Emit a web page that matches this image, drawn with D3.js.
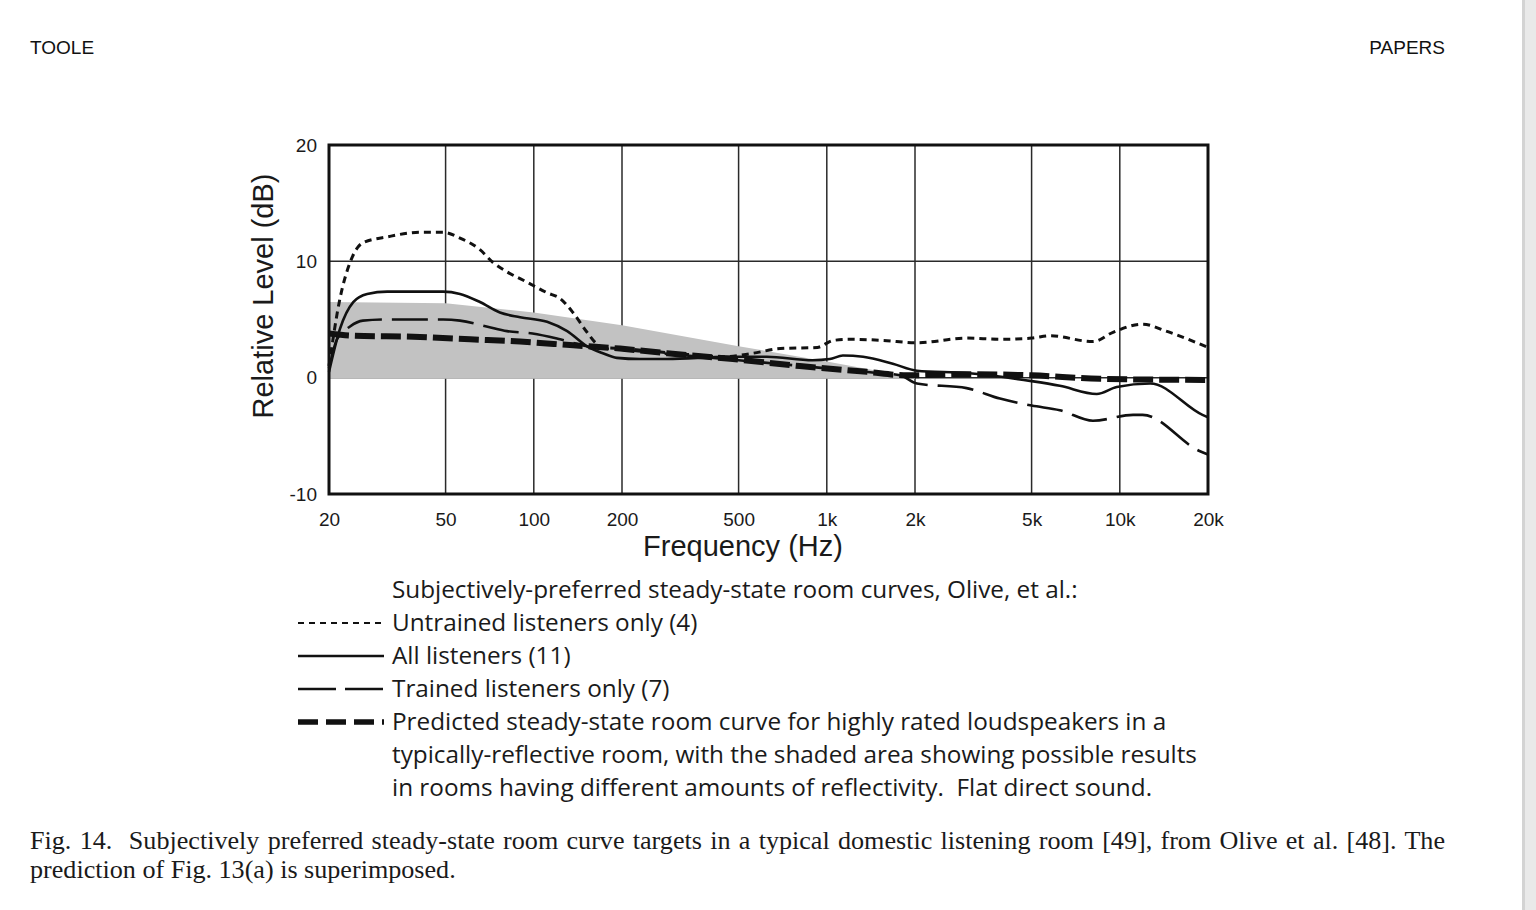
<!DOCTYPE html>
<html><head><meta charset="utf-8">
<script src="https://cdn.jsdelivr.net/npm/d3@7"></script>
<style>
html,body{margin:0;padding:0;background:#fff;}
svg{display:block;}
text{white-space:pre;}
</style></head>
<body>
<svg id="chart" width="1536" height="910"></svg>
<script>
// ---------- data ----------
const xTickValues = [20, 50, 100, 200, 500, 1000, 2000, 5000, 10000, 20000];
const xTickLabels = ["20", "50", "100", "200", "500", "1k", "2k", "5k", "10k", "20k"];
const yTickValues = [-10, 0, 10, 20];
const yTickLabels = ["-10", "0", "10", "20"];

const untrainedFreq = [20, 21.8, 23.6, 26.1, 31.6, 40.9, 49, 56, 65.5, 72.6, 81, 95, 111, 123, 136, 152, 164, 172, 200, 300, 450, 560, 694, 928, 1052, 1200, 1556, 2030, 3000, 3900, 5000, 5780, 8100, 9480, 11960, 14400, 20000];
const untrainedDb   = [1.0, 6.8, 9.9, 11.6, 12.1, 12.5, 12.5, 12.0, 11.0, 9.9, 9.1, 8.2, 7.3, 6.8, 5.6, 3.9, 2.9, 2.6, 2.5, 2.1, 1.8, 2.1, 2.5, 2.6, 3.2, 3.3, 3.2, 3.0, 3.4, 3.3, 3.4, 3.6, 3.1, 3.9, 4.6, 4.0, 2.6];

const allFreq = [20, 21.8, 24.2, 27, 31.6, 40.9, 49, 56, 65.5, 76.6, 89.8, 111, 130, 152, 172, 192, 230, 285, 458, 624, 894, 1024, 1135, 1330, 1680, 2030, 3000, 5000, 6240, 8340, 9760, 12700, 19150, 20000];
const allDb   = [0.5, 4.2, 6.5, 7.2, 7.4, 7.4, 7.4, 7.2, 6.5, 5.6, 5.2, 4.8, 4.0, 2.7, 2.1, 1.7, 1.6, 1.6, 1.8, 1.8, 1.5, 1.6, 1.9, 1.8, 1.2, 0.6, 0.4, -0.3, -0.7, -1.4, -0.8, -0.5, -3.2, -3.4];

const trainedFreq = [20, 21.3, 23.6, 26.1, 31.6, 49, 56, 69, 81, 99, 123, 152, 200, 300, 500, 1000, 1500, 1780, 2030, 3000, 3900, 5000, 6240, 8100, 11100, 11960, 18700, 20000];
const trainedDb   = [0.8, 3.3, 4.4, 4.9, 5.0, 5.0, 4.9, 4.4, 4.0, 3.8, 3.3, 2.7, 2.4, 2.0, 1.5, 0.8, 0.4, 0.2, -0.5, -0.9, -1.8, -2.4, -2.8, -3.7, -3.2, -3.2, -6.3, -6.6];

const predictedFreq = [20, 24.2, 40.9, 60.6, 89.8, 133, 197, 285, 478, 808, 1370, 1880, 3000, 5000, 8540, 20000];
const predictedDb   = [3.8, 3.6, 3.5, 3.3, 3.1, 2.8, 2.5, 2.1, 1.6, 1.0, 0.5, 0.2, 0.3, 0.2, -0.1, -0.2];

const shadeFreq  = [20, 50, 100, 200, 500, 1000, 2000];
const shadeTopDb = [6.5, 6.4, 5.6, 4.5, 2.7, 1.4, 0];

const legendTitle = "Subjectively-preferred steady-state room curves, Olive, et al.:";
const legendLabels = ["Untrained listeners only (4)", "All listeners (11)", "Trained listeners only (7)", "Predicted steady-state room curve for highly rated loudspeakers in a"];
const legendContinuation = ["typically-reflective room, with the shaded area showing possible results", "in rooms having different amounts of reflectivity.  Flat direct sound."];
const yAxisTitle = "Relative Level (dB)";
const xAxisTitle = "Frequency (Hz)";
const headerLeft = "TOOLE";
const headerRight = "PAPERS";
const captionLines = ["Fig. 14.  Subjectively preferred steady-state room curve targets in a typical domestic listening room [49], from Olive et al. [48]. The", "prediction of Fig. 13(a) is superimposed."];

// ---------- layout ----------
const svg = d3.select("#chart");
const L = 329, R = 1208, T = 145, B = 494;
const x = d3.scaleLog().domain([20, 20000]).range([L, R]);
const y = d3.scaleLinear().domain([-10, 20]).range([B, T]);

// page edge strip
svg.append("rect").attr("x", 1522).attr("y", 0).attr("width", 14).attr("height", 910).attr("fill", "#e9e9e9");
svg.append("rect").attr("x", 1522).attr("y", 0).attr("width", 3).attr("height", 910).attr("fill", "#d3d3d3");

// headers
svg.append("text").attr("x", 30).attr("y", 54).text(headerLeft)
  .attr("font-family", "Liberation Sans, Arial, sans-serif").attr("font-size", 19).attr("fill", "#111");
svg.append("text").attr("x", 1445).attr("y", 54).attr("text-anchor", "end").text(headerRight)
  .attr("font-family", "Liberation Sans, Arial, sans-serif").attr("font-size", 19).attr("fill", "#111");

// grid
const grid = svg.append("g").attr("stroke", "#2a2a2a").attr("stroke-width", 1.5);
grid.selectAll("line.v").data(xTickValues.slice(1, -1)).join("line").attr("class", "v")
  .attr("x1", d => x(d)).attr("x2", d => x(d)).attr("y1", T).attr("y2", B);
grid.selectAll("line.h").data([0, 10]).join("line").attr("class", "h")
  .attr("x1", L).attr("x2", R).attr("y1", d => y(d)).attr("y2", d => y(d));

// shaded area
const shade = shadeFreq.map((f, i) => [f, shadeTopDb[i]]);
svg.append("path").datum(shade)
  .attr("d", d3.area().x(d => x(d[0])).y0(y(0) + 1).y1(d => y(d[1])))
  .attr("fill", "#c2c2c2");

// curves
const line = d3.line().x(d => x(d[0])).y(d => y(d[1])).curve(d3.curveMonotoneX);
const zip = (a, b) => a.map((f, i) => [f, b[i]]);
const styles = {
  untrained: {w: 3, dash: "7,5"},
  all: {w: 2.6, dash: null},
  trained: {w: 2.6, dash: "36,10"},
  predicted: {w: 6, dash: "20,6"}
};
const curves = [
  ["untrained", zip(untrainedFreq, untrainedDb)],
  ["predicted", zip(predictedFreq, predictedDb)],
  ["trained", zip(trainedFreq, trainedDb)],
  ["all", zip(allFreq, allDb)]
];
curves.forEach(([k, pts]) => {
  svg.append("path").datum(pts).attr("d", line)
    .attr("fill", "none").attr("stroke", "#111")
    .attr("stroke-width", styles[k].w)
    .attr("stroke-dasharray", styles[k].dash);
});

// frame
svg.append("rect").attr("x", L).attr("y", T).attr("width", R - L).attr("height", B - T)
  .attr("fill", "none").attr("stroke", "#111").attr("stroke-width", 3);

// axes
const tickFont = "Liberation Sans, Arial, sans-serif";
const xAxis = d3.axisBottom(x).tickValues(xTickValues).tickFormat((d, i) => xTickLabels[i]).tickSize(0).tickPadding(19);
svg.append("g").attr("transform", `translate(0,${B})`).call(xAxis)
  .call(g => g.select(".domain").remove())
  .call(g => g.selectAll("text").attr("font-family", tickFont).attr("font-size", 19).attr("fill", "#1a1a1a"));
const yAxis = d3.axisLeft(y).tickValues(yTickValues).tickFormat((d, i) => yTickLabels[i]).tickSize(0).tickPadding(12);
svg.append("g").attr("transform", `translate(${L},0)`).call(yAxis)
  .call(g => g.select(".domain").remove())
  .call(g => g.selectAll("text").attr("font-family", tickFont).attr("font-size", 19).attr("fill", "#1a1a1a"));

// axis titles
svg.append("text").attr("transform", "translate(273,296) rotate(-90)").attr("text-anchor", "middle")
  .attr("font-family", tickFont).attr("font-size", 29).attr("fill", "#1a1a1a").text(yAxisTitle);
svg.append("text").attr("x", 743).attr("y", 556).attr("text-anchor", "middle")
  .attr("font-family", tickFont).attr("font-size", 29).attr("fill", "#1a1a1a").text(xAxisTitle);

// legend
const legFont = "Open Sans, Noto Sans, sans-serif";
const lg = svg.append("g");
const lgText = lg.append("g");
const allLegendLines = [legendTitle, ...legendLabels, ...legendContinuation];
lgText.selectAll("text").data(allLegendLines).join("text")
  .attr("x", 0).attr("y", (d, i) => 598 + i * 33)
  .attr("font-family", legFont).attr("font-size", 24).attr("fill", "#1a1a1a")
  .text(d => d);
const w0 = lgText.select("text").node().getComputedTextLength();
const sx = 686 / w0;
lgText.attr("transform", `translate(392,0) scale(${sx},1)`);
const sampleKeys = ["untrained", "all", "trained", "predicted"];
sampleKeys.forEach((k, i) => {
  const yy = 598 + (i + 1) * 33 - 8;
  lg.append("line").attr("x1", 298).attr("x2", 384).attr("y1", yy).attr("y2", yy)
    .attr("stroke", "#111").attr("stroke-width", k === "predicted" ? 5.5 : (k === "untrained" ? 2.2 : 2.4))
    .attr("stroke-dasharray", k === "untrained" ? "6,5" : k === "trained" ? "38,9" : k === "predicted" ? "20,8" : null);
});

// caption
const capFont = "Liberation Serif, Times New Roman, serif";
const cap = svg.append("g");
const c2 = cap.append("text").attr("x", 30).attr("y", 878).attr("font-family", capFont).attr("font-size", 22).attr("fill", "#1a1a1a").text(captionLines[1]);
const fs = 22 * 426 / c2.node().getComputedTextLength();
c2.attr("font-size", fs);
const c1 = cap.append("text").attr("x", 30).attr("y", 849).attr("font-family", capFont).attr("font-size", fs).attr("fill", "#1a1a1a").text(captionLines[0]);
const nat = c1.node().getComputedTextLength();
const nSpaces = (captionLines[0].match(/ /g) || []).length;
c1.attr("word-spacing", (1445 - 30 - nat) / nSpaces);
</script>
</body></html>
